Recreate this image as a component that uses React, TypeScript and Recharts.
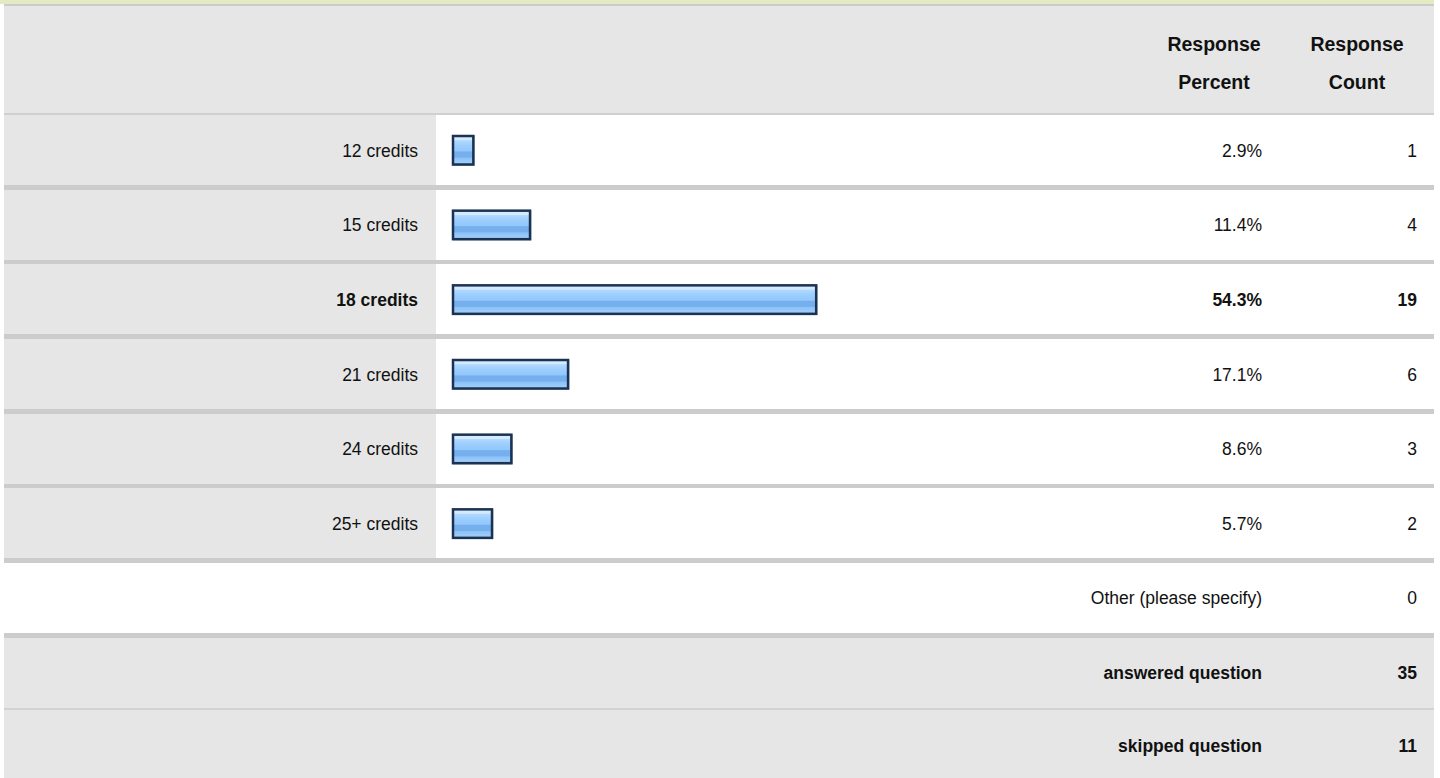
import { BarChart, Bar, XAxis, YAxis, LabelList } from "recharts";

// ===== DATA =====
const categories = [
  "12 credits",
  "15 credits",
  "18 credits",
  "21 credits",
  "24 credits",
  "25+ credits",
];
const percents = [2.9, 11.4, 54.3, 17.1, 8.6, 5.7];
const counts = [1, 4, 19, 6, 3, 2];

const otherLabel = "Other (please specify)";
const otherCount = 0;
const answeredCount = 35;
const skippedCount = 11;

// ===== LAYOUT =====
const W = 1440;
const H = 778;
const FONT = '"Liberation Sans", Arial, Helvetica, sans-serif';
const FS = 17.5;
const TABLE_L = 4;
const TABLE_R = 1434;
const LABEL_R = 436;
const PCT_X = 1262;
const CNT_X = 1417;
const BODY_TOP = 113;
const PITCH = 74.67;
const GRAY = "#e6e6e6";
const LINE = "#cccccc";

const data = categories.map((name, i) => ({
  name,
  percent: percents[i],
  count: counts[i],
}));
const maxPct = Math.max(...percents);

const box = (
  x: number,
  y: number,
  w: number,
  h: number,
  bg: string
): React.CSSProperties => ({
  position: "absolute",
  left: x,
  top: y,
  width: w,
  height: h,
  background: bg,
});

// ===== BAR SHAPE =====
const GlossyBar = (props: any) => {
  const { x, y, width, height } = props;
  return (
    <g>
      <rect
        x={x + 0.5}
        y={y + 0.5}
        width={width + 1}
        height={height}
        fill="none"
        stroke="#9aaabd"
        strokeWidth={1.5}
      />
      <rect
        x={x}
        y={y}
        width={width + 1}
        height={height}
        fill="url(#glossy)"
        stroke="#1b3253"
        strokeWidth={2.5}
      />
    </g>
  );
};

const CategoryTick = (props: any) => {
  const { y, payload, index } = props;
  const bold = percents[index] === maxPct;
  return (
    <text
      x={418}
      y={y}
      dy="0.36em"
      textAnchor="end"
      fontFamily={FONT}
      fontSize={FS}
      fontWeight={bold ? "bold" : "normal"}
      fill="#111"
    >
      {payload.value}
    </text>
  );
};

const makeCell = (colX: number, fmt: (v: number) => string) => (p: any) => {
  const { y, height, value, index } = p;
  const bold = percents[index] === maxPct;
  return (
    <text
      x={colX}
      y={y + height / 2}
      dy="0.36em"
      textAnchor="end"
      fontFamily={FONT}
      fontSize={FS}
      fontWeight={bold ? "bold" : "normal"}
      fill="#111"
    >
      {fmt(value)}
    </text>
  );
};

const cellText = (
  x: number,
  cy: number,
  text: string | number,
  bold = false
): React.ReactNode => (
  <div
    style={{
      position: "absolute",
      right: W - x,
      top: cy - 12,
      height: 24,
      lineHeight: "24px",
      whiteSpace: "nowrap",
      fontSize: FS,
      fontWeight: bold ? "bold" : "normal",
      color: "#111",
    }}
  >
    {text}
  </div>
);

export default function App() {
  const seps = Array.from({ length: 7 }, (_, i) => BODY_TOP + 72 + PITCH * i);
  const otherCy = BODY_TOP + PITCH * 6 + 37;
  const answeredCy = BODY_TOP + PITCH * 7 + 37;
  const skippedCy = BODY_TOP + PITCH * 8 + 36;

  return (
    <div
      style={{
        position: "relative",
        width: W,
        height: H,
        overflow: "hidden",
        background: "#fff",
        fontFamily: FONT,
      }}
    >
      <style>{"body{margin:0}"}</style>

      {/* table background */}
      <div style={box(0, 0, TABLE_R, 4, "#e6eac4")} />
      <div style={box(TABLE_L, 4, TABLE_R - TABLE_L, 2, LINE)} />
      <div style={box(TABLE_L, 6, TABLE_R - TABLE_L, 107, GRAY)} />
      <div style={box(TABLE_L, 113, TABLE_R - TABLE_L, 2, "#d0d0d0")} />
      <div style={box(TABLE_L, 115, LABEL_R - TABLE_L, seps[5] - 115, GRAY)} />
      <div style={box(TABLE_L, seps[6], TABLE_R - TABLE_L, H - seps[6], GRAY)} />
      {seps.map((sy, i) => (
        <div key={i} style={box(TABLE_L, sy, TABLE_R - TABLE_L, 4.6, LINE)} />
      ))}
      <div style={box(TABLE_L, 707.8, TABLE_R - TABLE_L, 2.2, "#d2d2d2")} />

      {/* header */}
      {[
        { cx: 1214, lines: ["Response", "Percent"] },
        { cx: 1357, lines: ["Response", "Count"] },
      ].map((h, i) => (
        <div
          key={i}
          style={{
            position: "absolute",
            left: h.cx - 70,
            width: 140,
            top: 25,
            textAlign: "center",
            fontWeight: "bold",
            fontSize: 19.5,
            lineHeight: "38px",
            color: "#111",
          }}
        >
          {h.lines[0]}
          <br />
          {h.lines[1]}
        </div>
      ))}

      {/* chart */}
      <div style={{ position: "absolute", left: 0, top: 0 }}>
        <BarChart
          width={W}
          height={H}
          data={data}
          layout="vertical"
          margin={{ top: BODY_TOP, bottom: H - BODY_TOP - PITCH * 6, left: TABLE_L, right: 320 }}
        >
          <defs>
            <linearGradient id="glossy" x1="0" y1="0" x2="0" y2="1">
              <stop offset="0%" stopColor="#d4eaff" />
              <stop offset="14%" stopColor="#d4eaff" />
              <stop offset="16%" stopColor="#b2d9ff" />
              <stop offset="32%" stopColor="#9dcfff" />
              <stop offset="52%" stopColor="#93c8fb" />
              <stop offset="56%" stopColor="#76afee" />
              <stop offset="74%" stopColor="#76afee" />
              <stop offset="78%" stopColor="#8ec3f8" />
              <stop offset="100%" stopColor="#a2d0fb" />
            </linearGradient>
          </defs>
          <XAxis type="number" domain={[0, 100]} hide />
          <YAxis
            type="category"
            dataKey="name"
            width={449}
            axisLine={false}
            tickLine={false}
            tick={<CategoryTick />}
            interval={0}
          />
          <Bar
            dataKey="percent"
            barSize={28.5}
            shape={<GlossyBar />}
            isAnimationActive={false}
          >
            <LabelList dataKey="percent" content={makeCell(PCT_X, (v) => `${v.toFixed(1)}%`)} />
            <LabelList dataKey="count" content={makeCell(CNT_X, (v) => `${v}`)} />
          </Bar>
        </BarChart>
      </div>

      {/* footer rows */}
      {cellText(PCT_X, otherCy, otherLabel)}
      {cellText(CNT_X, otherCy, otherCount)}
      {cellText(PCT_X, answeredCy, "answered question", true)}
      {cellText(CNT_X, answeredCy, answeredCount, true)}
      {cellText(PCT_X, skippedCy, "skipped question", true)}
      {cellText(CNT_X, skippedCy, skippedCount, true)}
    </div>
  );
}
